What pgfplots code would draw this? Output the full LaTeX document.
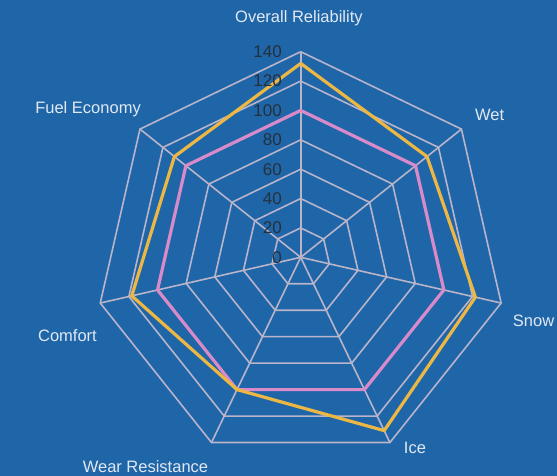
\documentclass[border=0pt]{standalone}
\usepackage{pgfplots}
\pgfplotsset{compat=1.18}
\usepackage{fontspec}
\setmainfont{Liberation Sans}
\definecolor{bg}{HTML}{1F66A8}
\definecolor{gridc}{HTML}{B9B4CA}
\definecolor{pinkc}{HTML}{D88BC8}
\definecolor{yellowc}{HTML}{EDB744}
\definecolor{labc}{HTML}{E2E8F2}
\definecolor{tickc}{HTML}{26303D}
\begin{document}
\begin{tikzpicture}
\fill[bg] (0,0) rectangle (557pt,476pt);
\useasboundingbox (0,0) rectangle (557pt,476pt);
\begin{axis}[
  at={(300.7pt,218.7pt)}, anchor=center,
  x=1.4686pt, y=1.4686pt,
  xmin=-150, xmax=150, ymin=-150, ymax=150,
  enlargelimits=false, hide axis, clip=false,
]
% grid polygons
\pgfplotsinvokeforeach{20,40,60,80,100,120,140}{
  \addplot[gridc, line width=1.6pt, data cs=polar] coordinates
    {(90,#1) (38.5714,#1) (-12.8571,#1) (-64.2857,#1) (-115.7143,#1) (-167.1429,#1) (141.4286,#1) (90,#1)};
}
% spokes
\pgfplotsinvokeforeach{90,38.5714,-12.8571,-64.2857,-115.7143,-167.1429,141.4286}{
  \addplot[gridc, line width=1.6pt, data cs=polar] coordinates {(#1,0) (#1,140)};
}
% series
\addplot[pinkc, line width=3.2pt, data cs=polar] coordinates
  {(90,100) (38.5714,100) (-12.8571,100) (-64.2857,100) (-115.7143,100) (-167.1429,100) (141.4286,100) (90,100)};
\addplot[yellowc, line width=3.2pt, data cs=polar] coordinates
  {(90,132) (38.5714,110) (-12.8571,122) (-64.2857,131) (-115.7143,100) (-167.1429,118) (141.4286,110) (90,132)};
% tick labels
\pgfplotsinvokeforeach{0,20,40,60,80,100,120,140}{
  \node[anchor=east, inner sep=0pt, text=tickc, font=\fontsize{17}{17}\selectfont] at (axis cs:-12.7,#1) {#1};
}
% category labels
\tikzset{lab/.style={text=labc, inner sep=0pt, font=\fontsize{16.5}{16.5}\selectfont}}
\node[lab] at (axis cs:-1.2,162.9) {Overall Reliability};
\node[lab] at (axis cs:128.6,96.9) {Wet};
\node[lab, anchor=west] at (axis cs:144.4,-43.2) {Snow};
\node[lab] at (axis cs:77.8,-129.9) {Ice};
\node[lab] at (axis cs:-105.7,-142.6) {Wear Resistance};
\node[lab] at (axis cs:-158.8,-53.6) {Comfort};
\node[lab] at (axis cs:-144.8,100.8) {Fuel Economy};
\end{axis}
\end{tikzpicture}
\end{document}
